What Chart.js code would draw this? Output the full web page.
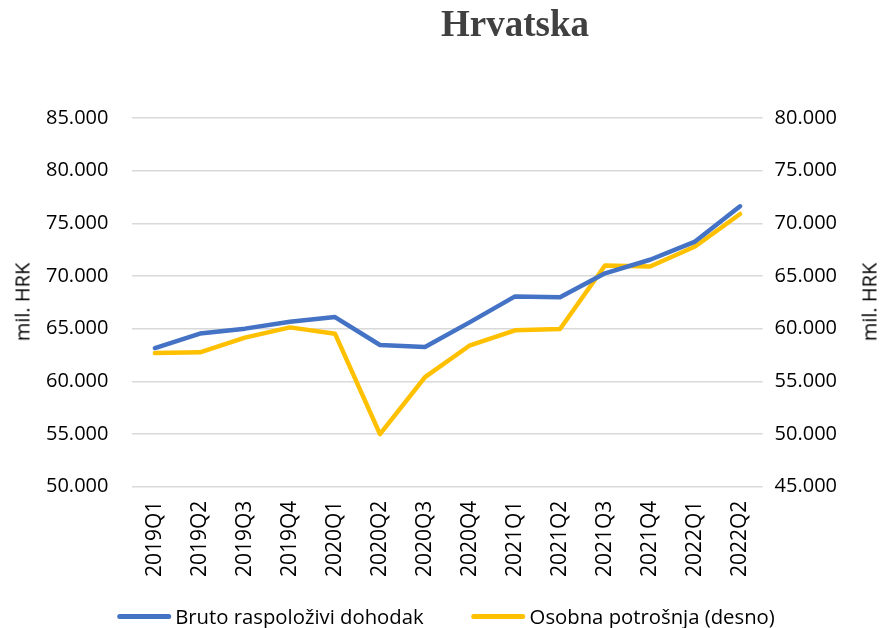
<!DOCTYPE html>
<html>
<head>
    <title>Hrvatska</title>
    <script src="https://cdn.jsdelivr.net/npm/chart.js"></script>
    <style>
        body {
            margin: 0;
            background: #fff;
            font-family: "Open Sans", sans-serif;
        }

        .wrap {
            position: relative;
            width: 881px;
            height: 628px;
            overflow: hidden;
        }

        .title {
            position: absolute;
            top: 2px;
            left: 515px;
            transform: translateX(-50%);
            font-family: "Liberation Serif", serif;
            font-weight: bold;
            font-size: 37px;
            color: #404040;
            white-space: nowrap;
        }

        .ytitle {
            position: absolute;
            top: 302px;
            font-size: 20px;
            color: #000;
            white-space: nowrap;
            transform: translate(-50%, -50%) rotate(-90deg);
        }

        .legend {
            position: absolute;
            top: 602px;
            left: 446px;
            transform: translateX(-50%);
            display: flex;
            align-items: center;
            gap: 48px;
            font-size: 20.3px;
            color: #000;
            white-space: nowrap;
        }

        .legend-item {
            display: flex;
            align-items: center;
        }

        .legend-line {
            display: inline-block;
            width: 54px;
            height: 5px;
            border-radius: 3px;
            margin-right: 4px;
        }
    </style>
</head>
<body>
    <div class="wrap">
        <div class="title">Hrvatska</div>
        <div class="ytitle" style="left: 22px;">mil. HRK</div>
        <div class="ytitle" style="left: 869px;">mil. HRK</div>
        <canvas id="chart" width="881" height="628"></canvas>
        <div class="legend" id="legend"></div>
    </div>

    <script>
        const quarters = ['2019Q1', '2019Q2', '2019Q3', '2019Q4', '2020Q1', '2020Q2', '2020Q3',
            '2020Q4', '2021Q1', '2021Q2', '2021Q3', '2021Q4', '2022Q1', '2022Q2'];

        // lijeva os
        const brutoDohodak = [63160, 64530, 65000, 65660, 66100, 63450, 63260,
            65620, 68060, 67990, 70250, 71540, 73270, 76620];

        // desna os
        const osobnaPotrosnja = [57690, 57750, 59150, 60120, 59520, 49990, 55400,
            58420, 59840, 59960, 66000, 65900, 67800, 70890];

        const leftTicks = [50000, 85000, 5000];
        const rightTicks = [45000, 80000, 5000];

        function fmt(v) {
            return String(v).replace(/\B(?=(\d{3})+(?!\d))/g, '.');
        }

        const tickFont = { family: '"Open Sans", sans-serif', size: 20 };

        const chart = new Chart(document.getElementById('chart'), {
            type: 'line',
            data: {
                labels: quarters,
                datasets: [
                    {
                        label: 'Bruto raspoloživi dohodak',
                        data: brutoDohodak,
                        borderColor: '#4472c4',
                        backgroundColor: '#4472c4',
                        borderWidth: 4.5,
                        borderCapStyle: 'round',
                        borderJoinStyle: 'round',
                        pointRadius: 0,
                        tension: 0,
                        yAxisID: 'y'
                    },
                    {
                        label: 'Osobna potrošnja (desno)',
                        data: osobnaPotrosnja,
                        borderColor: '#ffc000',
                        backgroundColor: '#ffc000',
                        borderWidth: 4.5,
                        borderCapStyle: 'round',
                        borderJoinStyle: 'round',
                        pointRadius: 0,
                        tension: 0,
                        yAxisID: 'y1'
                    }
                ]
            },
            options: {
                responsive: false,
                animation: false,
                layout: {
                    padding: { top: 118, left: 22, right: 32, bottom: 45 }
                },
                plugins: {
                    title: { display: false },
                    tooltip: { enabled: false },
                    legend: { display: false }
                },
                scales: {
                    x: {
                        offset: true,
                        grid: { display: false },
                        border: { display: false },
                        ticks: {
                            color: '#000',
                            font: { family: '"Open Sans", sans-serif', size: 21 },
                            minRotation: 90,
                            maxRotation: 90,
                            padding: 6
                        }
                    },
                    y: {
                        position: 'left',
                        min: leftTicks[0],
                        max: leftTicks[1],
                        grid: { color: '#d9d9d9', lineWidth: 1.5, drawTicks: false },
                        border: { display: false },
                        ticks: {
                            stepSize: leftTicks[2],
                            color: '#000',
                            font: tickFont,
                            padding: 24,
                            callback: v => fmt(v)
                        }
                    },
                    y1: {
                        position: 'right',
                        min: rightTicks[0],
                        max: rightTicks[1],
                        grid: { display: false, drawTicks: false },
                        border: { display: false },
                        ticks: {
                            stepSize: rightTicks[2],
                            color: '#000',
                            font: tickFont,
                            padding: 12,
                            callback: v => fmt(v)
                        }
                    }
                }
            }
        });

        // legenda iz datasetova
        const legendEl = document.getElementById('legend');
        chart.data.datasets.forEach(ds => {
            const item = document.createElement('span');
            item.className = 'legend-item';
            const line = document.createElement('span');
            line.className = 'legend-line';
            line.style.background = ds.borderColor;
            item.appendChild(line);
            item.appendChild(document.createTextNode(ds.label));
            legendEl.appendChild(item);
        });
    </script>
</body>
</html>
